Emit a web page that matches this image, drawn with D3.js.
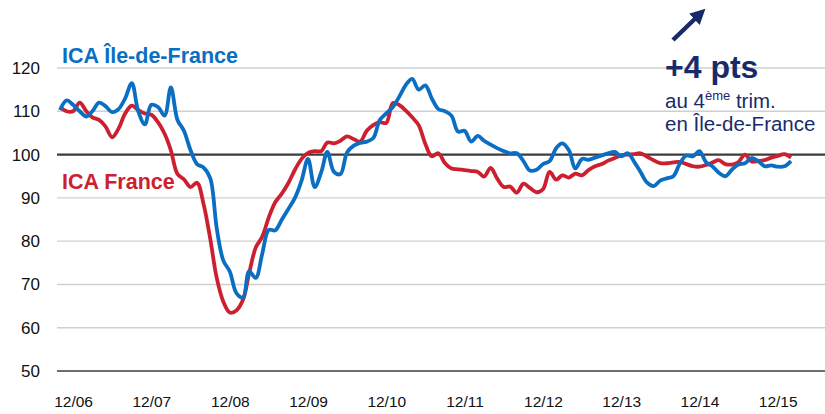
<!DOCTYPE html>
<html>
<head>
<meta charset="utf-8">
<script src="https://cdn.jsdelivr.net/npm/d3@7"></script>
<style>
  body { margin: 0; background: #fff; }
  svg { display: block; font-family: "Liberation Sans", Arial, sans-serif; }
</style>
</head>
<body>
<div id="chart"></div>
<script>
const width = 825;
const height = 414;

// monthly series, first value = October 2006
const firstMonth = "2006-10";
const icaIdf = [
  110.3, 112.5, 111.5, 110, 108.8, 110, 112, 111.2, 109.8, 110.5, 113, 116.5,
  110, 107, 111.5, 111, 109, 115.5, 108, 105.5, 101, 97.8, 97, 94.5,
  83, 75.5, 73, 68, 67, 73, 71.5, 77, 82.6, 82.5, 85, 87.5,
  90, 94, 99, 92.5, 96, 100.6, 96, 95.5, 100.5, 102, 102.7, 103,
  103.8, 108, 109.5, 111, 113.5, 116, 117.5, 115, 116, 113, 110.5, 110,
  109, 105.3, 105.5, 103, 104.3, 103.2, 102.3, 101.5, 100.8, 100.3, 100.3, 98.5,
  96.3, 96.5, 97.8, 98.5, 101.5, 102.6, 101, 96.8, 99, 98.8, 99.3, 99.8,
  100.3, 100.6, 99.6, 100.3, 98.2, 96, 93.5, 92.7, 94, 94.5, 95, 98,
  99.8, 99.6, 100.8, 98.2, 97.2, 95.8, 95, 96.5, 97.7, 98, 99.2, 98.5,
  97.3, 97.5, 97.2, 97.3, 98.5
];
const icaFrance = [
  111, 110, 110, 112, 110, 108.6, 108, 106.5, 104, 106, 109.5, 111.3,
  110.3, 109.5, 109.2, 107.5, 104.8, 101, 95.5, 94.3, 92.5, 93.5, 88.5, 80.5,
  71.5, 66, 63.5, 64, 66.5, 72.5, 78.5, 81, 85.5, 89, 91, 93.5,
  96.5, 99, 100.4, 100.8, 100.8, 102.8, 102.6, 103.2, 104.2, 103.6, 103, 105.5,
  106.8, 107.5, 107.3, 111.9, 111.4, 110.2, 108.6, 106.8, 102.5, 99.6, 100.3, 98,
  96.8, 96.6, 96.4, 96.2, 96, 94.9, 96.9, 94.5, 92.5, 92.6, 91.2, 93.3,
  92.3, 91.3, 92, 96, 94.2, 95.2, 94.7, 95.6, 95.2, 96.4, 97.3, 97.8,
  98.6, 99.2, 99.8, 100, 100.1, 100.3, 99.5, 98.7, 98, 98, 98.2, 98.3,
  97.8, 97.3, 97.2, 97.6, 98.2, 98.7, 97.8, 97.7, 98.3, 100, 98.4, 98.5,
  98.7, 99.3, 99.7, 100.1, 99.3
];
const yTicks = [50, 60, 70, 80, 90, 100, 110, 120];
const xTickMonths = ["2006-12", "2007-12", "2008-12", "2009-12", "2010-12",
  "2011-12", "2012-12", "2013-12", "2014-12", "2015-12"];

const parseMonth = d3.timeParse("%Y-%m");
const start = parseMonth(firstMonth);
const dates = icaIdf.map((_, i) => d3.timeMonth.offset(start, i));

const blue = "#0a6fc2";
const red = "#cc2030";
const navy = "#172b6b";

const x = d3.scaleTime()
    .domain([start, dates[dates.length - 1]])
    .range([60, 791]);

const y = d3.scaleLinear()
    .domain([50, 120])
    .range([371, 68]);

const svg = d3.select("#chart")
    .append("svg")
    .attr("width", width)
    .attr("height", height);

// horizontal grid
svg.append("g")
    .selectAll("line")
    .data(yTicks)
    .enter()
    .append("line")
    .attr("x1", 57)
    .attr("x2", width)
    .attr("y1", d => y(d))
    .attr("y2", d => y(d))
    .attr("stroke", d => (d === 100 || d === 50) ? "#3c3c3c" : "#cfcfcf")
    .attr("stroke-width", d => d === 100 ? 2.2 : (d === 50 ? 1.6 : 1.4));

// y axis labels
const yAxis = svg.append("g")
    .attr("transform", "translate(40,0)")
    .call(d3.axisLeft(y).tickValues(yTicks).tickSize(0).tickPadding(0));
yAxis.select(".domain").remove();
yAxis.selectAll("text")
    .attr("font-size", 17)
    .attr("font-family", "Liberation Sans, Arial, sans-serif")
    .attr("fill", "#111");

// x axis labels
const xAxis = svg.append("g")
    .attr("transform", "translate(0,396)")
    .call(d3.axisBottom(x)
        .tickValues(xTickMonths.map(parseMonth))
        .tickFormat(d3.timeFormat("%m/%y"))
        .tickSize(0).tickPadding(0));
xAxis.select(".domain").remove();
xAxis.selectAll("text")
    .attr("font-size", 15.5)
    .attr("font-family", "Liberation Sans, Arial, sans-serif")
    .attr("fill", "#111");

const line = d3.line()
    .x((d, i) => x(dates[i]))
    .y(d => y(d))
    .curve(d3.curveCatmullRom.alpha(0.5));

svg.append("path")
    .datum(icaFrance)
    .attr("d", line)
    .attr("fill", "none")
    .attr("stroke", red)
    .attr("stroke-width", 3.8)
    .attr("stroke-linejoin", "round");

svg.append("path")
    .datum(icaIdf)
    .attr("d", line)
    .attr("fill", "none")
    .attr("stroke", blue)
    .attr("stroke-width", 3.8)
    .attr("stroke-linejoin", "round");

// series labels
svg.append("text")
    .attr("x", 62).attr("y", 63)
    .attr("font-size", 21.5).attr("font-weight", "bold")
    .attr("fill", blue)
    .text("ICA Île-de-France");

svg.append("text")
    .attr("x", 62).attr("y", 189)
    .attr("font-size", 21.5).attr("font-weight", "bold")
    .attr("fill", red)
    .text("ICA France");

// annotation
const arrowTail = [673, 40], arrowTip = [706, 8];
svg.append("defs").append("marker")
    .attr("id", "head")
    .attr("viewBox", "0 0 10 10")
    .attr("refX", 6).attr("refY", 5)
    .attr("markerWidth", 3.4).attr("markerHeight", 3.4)
    .attr("orient", "auto")
    .append("path")
    .attr("d", "M0,0 L10,5 L0,10 Z")
    .attr("fill", navy);
svg.append("line")
    .attr("x1", arrowTail[0]).attr("y1", arrowTail[1])
    .attr("x2", arrowTip[0] - 5).attr("y2", arrowTip[1] + 5)
    .attr("stroke", navy)
    .attr("stroke-width", 4.5)
    .attr("marker-end", "url(#head)");

svg.append("text")
    .attr("x", 665).attr("y", 78)
    .attr("font-size", 32).attr("font-weight", "bold")
    .attr("fill", navy)
    .text("+4 pts");

const sub = svg.append("text")
    .attr("x", 665).attr("y", 108)
    .attr("font-size", 20.5)
    .attr("fill", navy);
sub.append("tspan").text("au 4");
sub.append("tspan").attr("font-size", 13).attr("dy", -8).text("ème");
sub.append("tspan").attr("dy", 8).text(" trim.");

svg.append("text")
    .attr("x", 665).attr("y", 131)
    .attr("font-size", 20.5)
    .attr("fill", navy)
    .text("en Île-de-France");
</script>
</body>
</html>
